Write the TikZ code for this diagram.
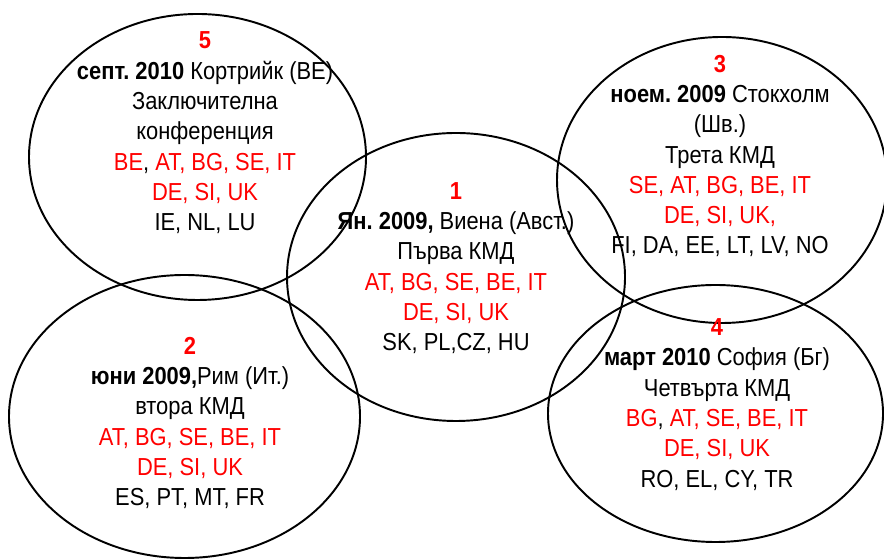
\documentclass[tikz,border=0pt]{standalone}
\usepackage{fontspec}
\setmainfont{Liberation Sans}[FakeStretch=0.89]
\newcommand{\mnum}[1]{{\color{red}\bfseries #1}}
\newcommand{\rd}[1]{\textcolor{red}{#1}}
\tikzset{
  meeting/.style={align=center, inner sep=0pt, font=\fontsize{14}{17.25}\selectfont\frenchspacing},
  ring/.style={line width=1.1pt}
}
\begin{document}
\begin{tikzpicture}
            \useasboundingbox (0,0) rectangle (17.68,11.18);
            \draw[ring] (3.95,8.04) ellipse (3.37 and 2.86);
            \draw[ring] (3.69,2.85) ellipse (3.51 and 2.83);
            \draw[ring] (9.12,5.64) ellipse (3.38 and 2.88);
            \draw[ring] (14.44,7.58) ellipse (3.30 and 2.86);
            \draw[ring] (14.31,2.91) ellipse (3.35 and 2.57);
            \node[meeting] (vienna) at (9.12,5.82) {\mnum{1}\\ \textbf{Ян. 2009,} Виена (Авст.)\\ Първа КМД\\ \rd{AT, BG, SE, BE, IT}\\ \rd{DE, SI, UK}\\ SK, PL,CZ, HU};
            \node[meeting] (rome) at (3.80,2.72) {\mnum{2}\\ \textbf{юни 2009,}Рим (Ит.)\\ втора КМД\\ \rd{AT, BG, SE, BE, IT}\\ \rd{DE, SI, UK}\\ ES, PT, MT, FR};
            \node[meeting] (stockholm) at (14.40,8.06) {\mnum{3}\\ \textbf{ноем. 2009} Стокхолм\\ (Шв.)\\ Трета КМД\\ \rd{SE, AT, BG, BE, IT}\\ \rd{DE, SI, UK,}\\ FI, DA, EE, LT, LV, NO};
            \node[meeting] (sofia) at (14.34,3.09) {\mnum{4}\\ \textbf{март 2010} София (Бг)\\ Четвърта КМД\\ \rd{BG}, \rd{AT, SE, BE, IT}\\ \rd{DE, SI, UK}\\ RO, EL, CY, TR};
            \node[meeting] (kortrijk) at (4.10,8.52) {\mnum{5}\\ \textbf{септ. 2010} Кортрийк (BE)\\ Заключителна\\ конференция\\ \rd{BE}, \rd{AT, BG, SE, IT}\\ \rd{DE, SI, UK}\\ IE, NL, LU};
        \end{tikzpicture}
\end{document}
